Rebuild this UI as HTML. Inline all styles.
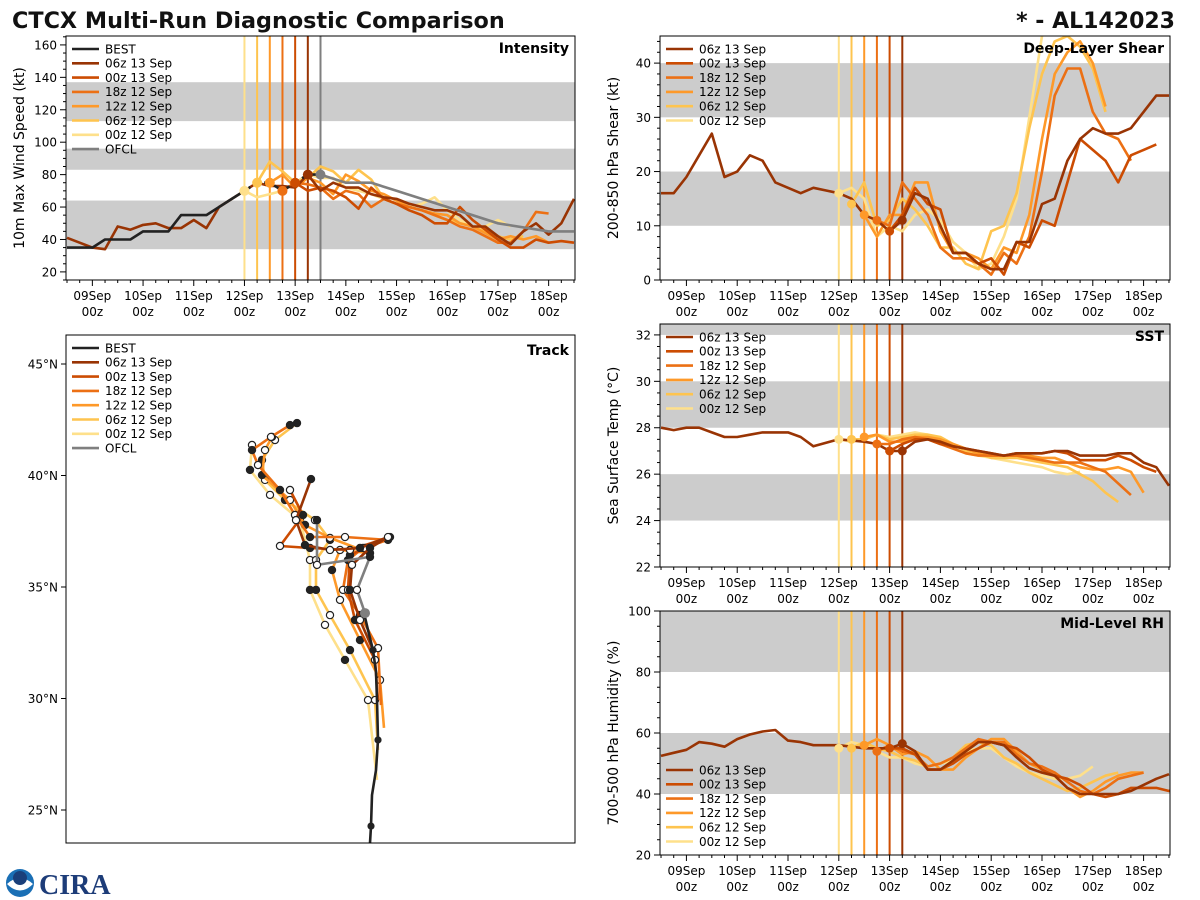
<!DOCTYPE html>
<html><head><meta charset="utf-8"><style>
html,body{margin:0;padding:0;background:#fff;}
svg{display:block;font-family:"DejaVu Sans","Liberation Sans",sans-serif;}
</style></head><body>
<svg id="fig" width="1200" height="900" viewBox="0 0 1200 900" xmlns="http://www.w3.org/2000/svg">
<text x="12" y="28" font-size="22.3" font-weight="bold" fill="#111">CTCX Multi-Run Diagnostic Comparison</text>
<text x="1175" y="28" font-size="22" font-weight="bold" fill="#111" text-anchor="end">* - AL142023</text>
<g>
<circle cx="20" cy="883" r="14" fill="#1a6fb5"/>
<path d="M7 884 Q20 872 33 884 Q20 897 7 884Z" fill="#fff"/>
<circle cx="20" cy="878" r="7" fill="#1a3f7a"/>
<text x="39" y="894" font-size="28" font-weight="bold" fill="#1d3c78" font-family="Liberation Serif,serif">CIRA</text>
</g>
<g id="layer"></g>
</svg>
<script>
// ---------- data ----------
const runNames=["06z 13 Sep","00z 13 Sep","18z 12 Sep","12z 12 Sep","06z 12 Sep","00z 12 Sep"];
const runInit=[4.25,4.0,3.75,3.5,3.25,3.0];
const dayLabels=["09Sep","10Sep","11Sep","12Sep","13Sep","14Sep","15Sep","16Sep","17Sep","18Sep"];
// Intensity (kt)
const bestStart=-0.5;
const bestInt=[35,35,35,40,40,40,45,45,45,55,55,55,60,65,70,75,75,70,75,80,80];
const ofclDays=[4.5,5,5.5,6,7,8,9,9.5];
const ofclInt=[80,75,75,70,60,50,45,45];
const int06z13=[41,38,35,34,48,46,49,50,47,47,52,47,60,65,70,75,73,73,72,80,70,75,72,72,68,66,65,62,60,58,58,55,48,48,42,37,45,50,43,50,65];
const int00z13=[75,70,72,70,66,59,72,65,62,58,55,50,50,60,52,46,40,35,35,40,38,39,38];
const int18z12=[70,75,74,72,65,70,68,60,65,62,60,58,55,52,48,46,42,38,38,45,57,56];
const int12z12=[75,80,72,78,75,68,80,76,70,68,64,60,58,56,55,50,48,44,40,42,40,42,38];
const int06z12=[75,88,82,75,78,85,82,75,83,77,65,62,60,58,55,52,50,48,45,42,40,42];
const int00z12=[70,66,68,70,75,80,78,78,72,70,68,65,62,60,62,66,58,52,48,48,52,48];
// Shear (kt)
const shr06z13=[16,16,19,23,27,19,20,23,22,18,17,16,17,16.5,16,15,12,11,9,11,16,15,10,5,5,3,2,2,7,7,14,15,22,26,28,27,27,28,31,34,34];
const shr00z13=[9,12,17,14,13,5,5,3,4,1,7,6,11,10,18,26,24,22,18,23,24,25];
const shr18z12=[11,10,18,15,12,6,4,4,3,1,5,3,8,20,34,39,39,31,27,26,22];
const shr12z12=[12,8,12,12,18,18,9,5,5,4,2,6,5,12,26,38,42,44,40,32];
const shr06z12=[14,18,10,11,15,13,10,6,6,3,2,9,10,16,28,38,44,45,43,39,31];
const shr00z12=[16,17,15,8,10,9,12,13,11,7,5,2,3,8,15,30,45,47,47];
// SST (C)
const sst06z13=[28,27.9,28,28,27.8,27.6,27.6,27.7,27.8,27.8,27.8,27.6,27.2,27.35,27.5,27.45,27.4,27.3,27.0,27.0,27.4,27.5,27.4,27.2,27.1,27.0,26.9,26.8,26.9,26.9,26.9,27.0,27.0,26.8,26.8,26.8,26.9,26.9,26.5,26.3,25.5];
const sst00z13=[27.0,27.3,27.5,27.5,27.3,27.2,27.1,27.0,26.9,26.8,26.9,26.9,26.9,27.0,26.9,26.6,26.6,26.6,26.8,26.6,26.3,26.1];
const sst18z12=[27.3,27.3,27.5,27.6,27.5,27.3,27.1,26.9,26.8,26.8,26.8,26.8,26.7,26.6,26.5,26.5,26.5,26.3,26.1,25.6,25.1];
const sst12z12=[27.6,27.7,27.4,27.4,27.6,27.6,27.5,27.3,27.1,26.9,26.8,26.8,26.8,26.8,26.7,26.7,26.5,26.3,26.2,26.2,26.3,26.1,25.2];
const sst06z12=[27.5,27.5,27.7,27.5,27.6,27.7,27.7,27.6,27.3,27.0,26.9,26.7,26.7,26.7,26.6,26.5,26.4,26.3,26.0,25.7,25.2,24.8];
const sst00z12=[27.5,27.4,27.5,27.7,27.6,27.7,27.8,27.7,27.5,27.2,26.9,26.8,26.7,26.6,26.5,26.4,26.3,26.1,26.0,26.1];
// Mid-level RH (%)
const rh06z13=[52.5,53.5,54.5,57,56.5,55.5,58,59.5,60.5,61,57.5,57,56,56,56,55.5,55,55,55,56.5,54,48,48,51,54,57,57,56,52,48.5,47,46,42,40,40,40,40,41,43,45,46.5];
const rh00z13=[55,55,53,48,48,50,53,55,57,56,55,52,48,46,45,43,40,39,40,42,42,42,41,43];
const rh18z12=[54,56,54,53,49,50,52,55,58,57,57,53,50,49,47,44,41,40,42,45,46,47];
const rh12z12=[56,58,56,53,54,52,48,48,52,55,58,58,54,50,48,46,42,39,41,44,46,47,47];
const rh06z12=[55,57,55,54,52,51,49,50,52,56,57,56,52,50,47,45,43,41,42,44,46,47];
const rh00z12=[55,57,56,54,52,52,50,49,50,51,54,55,55,52,49,47,46,45,45,46,49];
// Track (lat N, lon E)
const bestLat=[23.52,24.28,25.67,26.79,28.14,29.93,31.19,32.17,33.07,33.83];
const bestLon=[-60,-59.95,-59.9,-59.7,-59.6,-59.65,-59.7,-59.85,-60.1,-60.3];
const ofclLat=[33.83,34.87,36.35,35.99,38.0];
const ofclLon=[-60.25,-60.65,-60,-62.65,-62.65];
const trk06z13Lat=[32.17,33.52,34.87,35.99,36.75,37.24,36.75,36.66,36.88,38.0,39.84];
const trk06z13Lon=[-59.85,-60.5,-61,-60.9,-60,-59.1,-60.5,-62,-63.25,-63.7,-62.95];
const trk00z13Lat=[29.93,31.73,33.52,34.87,36.43,36.75,37.24,36.66,36.75,36.84,38.23,39.35];
const trk00z13Lon=[-59.6,-59.75,-60.75,-61.1,-61,-60.25,-59,-61,-63,-64.5,-63.35,-64];
const trk18z12Lat=[29.71,32.26,33.74,34.87,36.21,36.75,37.11,37.24,37.24,38.23,39.35,40.47,41.14,41.73,42.26];
const trk18z12Lon=[-59.45,-59.6,-60.5,-61.35,-61.1,-60.35,-59.1,-61.25,-63,-63.75,-64.5,-65.6,-65.9,-64.95,-64];
const trk12z12Lat=[28.68,30.83,32.62,34.42,35.76,36.66,36.52,37.2,37.78,38.9,40.02,41.14,41.73];
const trk12z12Lon=[-59.3,-59.5,-60.5,-61.5,-61.9,-61.5,-60,-62,-63.25,-64,-65.4,-65.25,-64.9];
const trk06z12Lat=[27.69,29.93,32.17,33.74,34.87,36.21,37.11,38.0,38.9,39.8,40.7,41.59,42.35];
const trk06z12Lon=[-59.6,-59.75,-61,-62,-62.7,-62.7,-62,-62.75,-64.25,-65.25,-65.4,-64.75,-63.65];
const trk00z12Lat=[26.35,29.93,31.73,33.3,34.87,36.21,38.0,39.13,40.25,41.37];
const trk00z12Lon=[-59.65,-60.1,-61.25,-62.25,-63,-63,-63.5,-65,-66,-65.9];
const latTicks=[25,30,35,40,45];

// ---------- style ----------
const runColors=["#993404","#cc4c02","#ec7014","#fe9929","#fec44f","#fee08b"];
const NS="http://www.w3.org/2000/svg";
const layer=document.getElementById('layer');
function mk(tag,attrs,parent){const e=document.createElementNS(NS,tag);for(const k in attrs)e.setAttribute(k,attrs[k]);(parent||layer).appendChild(e);return e;}
const XMIN=-0.52,XMAX=9.52;

function timePanel(p){
  const g=mk('g',{});
  
  
  const xs=d=>p.x0+(d-XMIN)/(XMAX-XMIN)*p.w;
  const ys=v=>p.y0+p.h-(v-p.ymin)/(p.ymax-p.ymin)*p.h;
  const cp='clip-'+p.name;
  const cl=mk('clipPath',{id:cp},g);mk('rect',{x:p.x0,y:p.y0,width:p.w,height:p.h},cl);
  const inner=mk('g',{'clip-path':'url(#'+cp+')'},g);
  p.bands.forEach(b=>{
    const r=mk('rect',{x:p.x0,y:ys(b[1]),width:p.w,height:ys(b[0])-ys(b[1]),fill:'#cccccc'},inner);
    
    
  });
  for(let i=5;i>=0;i--){
    const l=mk('line',{x1:xs(runInit[i]),x2:xs(runInit[i]),y1:p.y0,y2:p.y0+p.h,stroke:runColors[i],'stroke-width':2},inner);
    
    
  }
  if(p.ofcl){
    const l=mk('line',{x1:xs(4.5),x2:xs(4.5),y1:p.y0,y2:p.y0+p.h,stroke:'#7f7f7f','stroke-width':2},inner);
    
    
  }
  function series(vals,start,color,name,dash){
    const pts=vals.map((v,i)=>xs(start+i*0.25).toFixed(1)+','+ys(v).toFixed(1)).join(' ');
    const pl=mk('polyline',{points:pts,fill:'none',stroke:color,'stroke-width':2.6,'stroke-linejoin':'round'},inner);
    if(dash)pl.setAttribute('stroke-dasharray',dash);
    
    
  }
  for(let i=5;i>=1;i--) series(p.runs[i],runInit[i],runColors[i],'series-'+runNames[i].replace(/ /g,'-').toLowerCase());
  series(p.runs[0],-0.5,runColors[0],'series-06z-13-sep');
  if(p.ofcl){
    const pts=ofclDays.map((d,i)=>xs(d).toFixed(1)+','+ys(ofclInt[i]).toFixed(1)).join(' ');
    const pl=mk('polyline',{points:pts,fill:'none',stroke:'#7f7f7f','stroke-width':2.6},inner);
    
    
    const solid=bestInt.slice(0,15);
    series(solid,bestStart,'#222','series-best');
    series(bestInt.slice(14),bestStart+14*0.25,'#222','series-best-dashed','7,4');
    for(let i=5;i>=0;i--){
      const idx=Math.round((runInit[i]-bestStart)/0.25);
      const c=mk('circle',{cx:xs(runInit[i]),cy:ys(bestInt[idx]),r:5,fill:runColors[i]},inner);
      
      
    }
    const c=mk('circle',{cx:xs(4.5),cy:ys(ofclInt[0]),r:5,fill:'#7f7f7f'},inner);
    
    
  } else {
    for(let i=5;i>=0;i--){
      const v=i==0?p.runs[0][Math.round((runInit[0]+0.5)/0.25)]:p.runs[i][0];
      const c=mk('circle',{cx:xs(runInit[i]),cy:ys(v),r:4.5,fill:runColors[i]},inner);
      
      
    }
  }
  const fr=mk('rect',{x:p.x0,y:p.y0,width:p.w,height:p.h,fill:'none',stroke:'#000','stroke-width':1},g);
  
  
  const by=p.y0+p.h;
  for(let q=-2;q<=38;q++){
    const d=q*0.25; if(d<XMIN||d>XMAX)continue;
    const major=q%4==0;
    mk('line',{x1:xs(d),x2:xs(d),y1:by,y2:by+(major?6:3),stroke:'#000','stroke-width':1},g);
  }
  dayLabels.forEach((lab,i)=>{
    const t=mk('text',{x:xs(i),y:by+20,'font-size':12,'text-anchor':'middle',fill:'#000'},g);t.textContent=lab;
    
    
    const t2=mk('text',{x:xs(i),y:by+36,'font-size':12,'text-anchor':'middle',fill:'#000'},g);t2.textContent='00z';
    
    
  });
  for(let v=Math.ceil(p.ymin/p.minor)*p.minor;v<=p.ymax+1e-9;v+=p.minor){
    const major=Math.abs(v/p.major-Math.round(v/p.major))<1e-6;
    mk('line',{x1:p.x0,x2:p.x0-(major?6:3),y1:ys(v),y2:ys(v),stroke:'#000','stroke-width':1},g);
    if(major&&v>=p.ymin&&v<=p.ymax){
      const t=mk('text',{x:p.x0-9,y:ys(v)+4.5,'font-size':12,'text-anchor':'end',fill:'#000'},g);t.textContent=String(Math.round(v));
      
      
    }
  }
  const yt=mk('text',{x:0,y:0,'font-size':14,'text-anchor':'middle',fill:'#000',transform:`translate(${p.x0-42},${p.y0+p.h/2}) rotate(-90)`},g);
  yt.textContent=p.ylabel;
  
  
  const tt=mk('text',{x:p.x0+p.w-6,y:p.y0+17,'font-size':14,'font-weight':'bold','text-anchor':'end',fill:'#000'},g);
  tt.textContent=p.title;
  
  
  legend(g,p.x0+6,p.legY,p.ofcl);
}
function legend(g,x,y,full){
  const items=[];
  if(full)items.push(['BEST','#222']);
  runNames.forEach((n,i)=>items.push([n,runColors[i]]));
  if(full)items.push(['OFCL','#7f7f7f']);
  items.forEach((it,i)=>{
    const yy=y+i*14.3;
    const l=mk('line',{x1:x,x2:x+27,y1:yy,y2:yy,stroke:it[1],'stroke-width':2.6},g);
    
    
    const t=mk('text',{x:x+33,y:yy+4.3,'font-size':12,fill:'#000'},g);t.textContent=it[0];
    
    
  });
}
timePanel({name:'intensity',x0:66,y0:36,w:509,h:244,ymin:15,ymax:165.5,major:20,minor:5,bands:[[34,64],[83,96],[113,137]],
  runs:[int06z13,int00z13,int18z12,int12z12,int06z12,int00z12],ofcl:true,ylabel:'10m Max Wind Speed (kt)',title:'Intensity',legY:49});
timePanel({name:'shear',x0:660,y0:36,w:510,h:244,ymin:0,ymax:45,major:10,minor:2,bands:[[10,20],[30,40]],
  runs:[shr06z13,shr00z13,shr18z12,shr12z12,shr06z12,shr00z12],ylabel:'200-850 hPa Shear (kt)',title:'Deep-Layer Shear',legY:49});
timePanel({name:'sst',x0:660,y0:324,w:510,h:243,ymin:22,ymax:32.47,major:2,minor:0.5,bands:[[24,26],[28,30],[32,33]],
  runs:[sst06z13,sst00z13,sst18z12,sst12z12,sst06z12,sst00z12],ylabel:'Sea Surface Temp (°C)',title:'SST',legY:337});
timePanel({name:'rh',x0:660,y0:611,w:510,h:244,ymin:20,ymax:100,major:20,minor:5,bands:[[40,60],[80,100]],
  runs:[rh06z13,rh00z13,rh18z12,rh12z12,rh06z12,rh00z12],ylabel:'700-500 hPa Humidity (%)',title:'Mid-Level RH',legY:770});

// ---------- track ----------
(function(){
  const T={x0:66,y0:335,w:509,h:508};
  const g=mk('g',{});
  
  
  const px=lon=>370+(lon+60)*20;
  const py=lat=>810-(lat-25)*22.3;
  const cl=mk('clipPath',{id:'clip-track'},g);mk('rect',{x:T.x0,y:T.y0,width:T.w,height:T.h},cl);
  const inner=mk('g',{'clip-path':'url(#clip-track)'},g);
  function trk(lats,lons,color,name,markers){
    const pts=lats.map((la,i)=>px(lons[i]).toFixed(1)+','+py(la).toFixed(1)).join(' ');
    const pl=mk('polyline',{points:pts,fill:'none',stroke:color,'stroke-width':2.6,'stroke-linejoin':'round'},inner);
    
    
    if(markers){
      lats.forEach((la,i)=>{ if(i==0)return;
        const c=mk('circle',{cx:px(lons[i]),cy:py(la),r:3.6,fill:i%2?'#fff':'#222',stroke:'#222','stroke-width':1.2},inner);
        
        
      });
    }
  }
  trk(trk00z12Lat,trk00z12Lon,runColors[5],'track-00z-12-sep',true);
  trk(trk06z12Lat,trk06z12Lon,runColors[4],'track-06z-12-sep',true);
  trk(trk12z12Lat,trk12z12Lon,runColors[3],'track-12z-12-sep',true);
  trk(trk18z12Lat,trk18z12Lon,runColors[2],'track-18z-12-sep',true);
  trk(trk00z13Lat,trk00z13Lon,runColors[1],'track-00z-13-sep',true);
  trk(trk06z13Lat,trk06z13Lon,runColors[0],'track-06z-13-sep',true);
  trk(ofclLat,ofclLon,'#7f7f7f','track-ofcl',true);
  trk(bestLat,bestLon,'#222','track-best',false);
  bestLat.forEach((la,i)=>{ if(i%3!=1)return;
    const c=mk('circle',{cx:px(bestLon[i]),cy:py(la),r:3.6,fill:'#222'},inner);
    
    
  });
  const cur=mk('circle',{cx:px(ofclLon[0]),cy:py(ofclLat[0]),r:5,fill:'#7f7f7f'},inner);
  
  
  const fr=mk('rect',{x:T.x0,y:T.y0,width:T.w,height:T.h,fill:'none',stroke:'#000','stroke-width':1},g);
  
  
  latTicks.forEach(la=>{
    mk('line',{x1:T.x0,x2:T.x0-5,y1:py(la),y2:py(la),stroke:'#000'},g);
    const t=mk('text',{x:T.x0-8,y:py(la)+4.5,'font-size':12,'text-anchor':'end',fill:'#000'},g);t.textContent=la+'°N';
    
    
  });
  const tt=mk('text',{x:T.x0+T.w-6,y:T.y0+20,'font-size':14,'font-weight':'bold','text-anchor':'end',fill:'#000'},g);
  tt.textContent='Track';
  
  
  legend(g,72,348,true);
})();
</script>
</body></html>
